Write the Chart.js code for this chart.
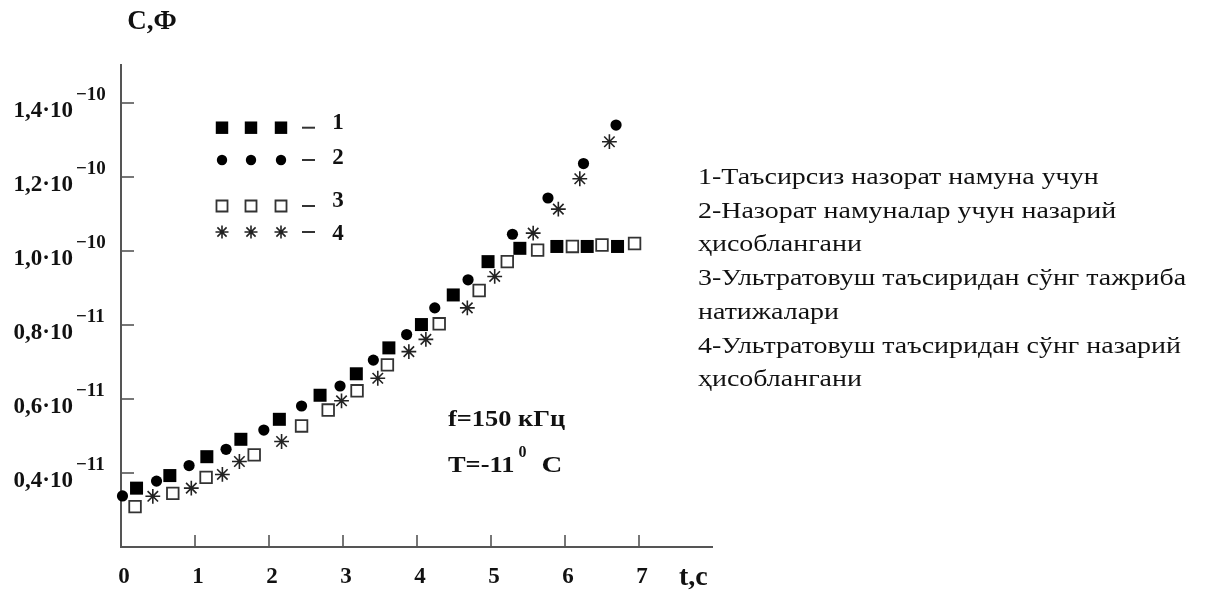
<!DOCTYPE html>
<html><head><meta charset="utf-8">
<script src="https://cdn.jsdelivr.net/npm/chart.js@4"></script>
<style>
html,body{margin:0;padding:0;background:#fff;}
#wrap{position:relative;width:1213px;height:597px;overflow:hidden;}
#c{position:absolute;left:0;top:0;}
#notes{position:absolute;left:698px;top:160px;font-family:"Liberation Serif",serif;font-size:23px;line-height:33.7px;color:#111;white-space:nowrap;transform:scaleX(1.215);transform-origin:0 0;}
</style></head><body>
<div id="wrap"><canvas id="c" width="1213" height="597"></canvas>
<div id="notes">1-Таъсирсиз назорат намуна учун<br>2-Назорат намуналар учун назарий<br>ҳисоблангани<br>3-Ультратовуш таъсиридан сўнг тажриба<br>натижалари<br>4-Ультратовуш таъсиридан сўнг назарий<br>ҳисоблангани</div></div>
<script>
// ---- data ----
const s1x = [0.21,0.66,1.16,1.62,2.14,2.69,3.18,3.62,4.06,4.49,4.96,5.39,5.89,6.30,6.71];
const s1y = [0.359,0.393,0.444,0.491,0.545,0.610,0.668,0.738,0.801,0.881,0.971,1.007,1.012,1.012,1.012];
const s2x = [0.02,0.48,0.92,1.42,1.93,2.44,2.96,3.41,3.86,4.24,4.69,5.29,5.77,6.25,6.69];
const s2y = [0.338,0.378,0.420,0.464,0.516,0.581,0.635,0.705,0.774,0.846,0.922,1.045,1.143,1.236,1.340];
const s3x = [0.19,0.70,1.15,1.80,2.44,2.80,3.19,3.60,4.30,4.84,5.22,5.63,6.10,6.50,6.94];
const s3y = [0.309,0.345,0.388,0.449,0.527,0.570,0.622,0.692,0.803,0.893,0.971,1.002,1.012,1.016,1.020];
const s4x = [0.43,0.95,1.37,1.60,2.17,2.98,3.47,3.89,4.12,4.68,5.05,5.57,5.91,6.20,6.60];
const s4y = [0.337,0.359,0.396,0.431,0.485,0.595,0.656,0.728,0.761,0.846,0.931,1.048,1.113,1.195,1.295];
const seriesNames = ['1','2','3','4'];
const yTickValues = [0.4,0.6,0.8,1.0,1.2,1.4];
const yTickMain = ['0,4·10','0,6·10','0,8·10','1,0·10','1,2·10','1,4·10'];
const yTickExp = ['−11','−11','−11','−10','−10','−10'];
const xTickValues = [0,1,2,3,4,5,6,7];
const xTickLabels = ['0','1','2','3','4','5','6','7'];
const yTitle = 'С,Ф';
const xTitle = 't,c';

const zip = (xs, ys) => xs.map((x, i) => ({x: x, y: ys[i]}));
const F = (s) => 'bold ' + s + 'px "Liberation Serif", serif';

const styles = [
  {pointStyle:'rect', radius:9.2, bg:'#000', border:'#000', bw:0},
  {pointStyle:'circle', radius:5.6, bg:'#000', border:'#000', bw:0},
  {pointStyle:'rect', radius:8.2, bg:'#fff', border:'#333', bw:1.8},
  {pointStyle:'star', radius:7.4, bg:'#222', border:'#222', bw:1.6}
];
const allData = [zip(s1x,s1y), zip(s2x,s2y), zip(s3x,s3y), zip(s4x,s4y)];

function stretchText(ctx, txt, x, y, sx) {
  ctx.save();
  ctx.translate(x, y);
  ctx.scale(sx, 1);
  ctx.fillText(txt, 0, 0);
  ctx.restore();
  return ctx.measureText(txt).width * sx;
}

const decor = {
  id: 'decor',
  beforeDatasetsDraw(chart) {
    const ctx = chart.ctx, a = chart.chartArea;
    const xs = chart.scales.x, ys = chart.scales.y;
    ctx.save();
    ctx.strokeStyle = '#555';
    ctx.lineWidth = 2;
    ctx.beginPath();
    ctx.moveTo(a.left, a.top); ctx.lineTo(a.left, a.bottom); ctx.lineTo(a.right, a.bottom);
    ctx.stroke();
    ctx.lineWidth = 1.6;
    yTickValues.forEach(v => {
      const y = Math.round(ys.getPixelForValue(v));
      ctx.beginPath(); ctx.moveTo(a.left, y); ctx.lineTo(a.left + 13, y); ctx.stroke();
    });
    xTickValues.forEach(v => {
      if (v === 0) return;
      const x = Math.round(xs.getPixelForValue(v));
      ctx.beginPath(); ctx.moveTo(x, a.bottom); ctx.lineTo(x, a.bottom - 12); ctx.stroke();
    });
    ctx.restore();
  },
  afterDraw(chart) {
    const ctx = chart.ctx, a = chart.chartArea;
    const xs = chart.scales.x, ys = chart.scales.y;
    ctx.save();
    ctx.fillStyle = '#111';
    // y tick labels
    yTickValues.forEach((v, i) => {
      const y = ys.getPixelForValue(v);
      ctx.font = F(23);
      ctx.textAlign = 'right'; ctx.textBaseline = 'middle';
      ctx.fillText(yTickMain[i], 73, y + 8);
      ctx.font = F(19);
      ctx.textAlign = 'left';
      ctx.fillText(yTickExp[i], 76, y - 8);
    });
    // x tick labels
    ctx.font = F(23); ctx.textAlign = 'center'; ctx.textBaseline = 'middle';
    xTickValues.forEach((v, i) => {
      ctx.fillText(xTickLabels[i], xs.getPixelForValue(v) + 3, 577);
    });
    // titles
    ctx.font = F(27);
    ctx.textAlign = 'center';
    ctx.fillText(yTitle, 152, 22);
    ctx.textAlign = 'left';
    ctx.font = F(28);
    ctx.fillText(xTitle, 679, 578);
    // annotations
    ctx.font = F(24); ctx.textAlign = 'left';
    stretchText(ctx, 'f=150 кГц', 448, 420, 1.1);
    const w1 = stretchText(ctx, 'T=-11', 448, 466, 1.1);
    ctx.font = F(16);
    ctx.fillText('0', 448 + w1 + 4, 453);
    ctx.font = F(24);
    stretchText(ctx, 'C', 448 + w1 + 27, 466, 1.2);
    // legend
    const rows = [127.7, 160, 206, 232];
    const numY = [123, 158, 201, 234];
    const mx = [222, 251, 281];
    rows.forEach((ry, i) => {
      const st = styles[i];
      mx.forEach(x => {
        ctx.fillStyle = st.bg; ctx.strokeStyle = st.border; ctx.lineWidth = st.bw;
        const r = i === 0 ? 8.8 : (i === 2 ? 7.8 : (i === 1 ? 5.2 : 6.5));
        Chart.helpers.drawPoint(ctx, {pointStyle: st.pointStyle, radius: r, rotation: 0, borderWidth: st.bw}, x, ry);
      });
      ctx.strokeStyle = '#333'; ctx.lineWidth = 2;
      ctx.beginPath(); ctx.moveTo(302, ry); ctx.lineTo(315, ry); ctx.stroke();
      ctx.fillStyle = '#111';
      ctx.font = F(23); ctx.textAlign = 'center'; ctx.textBaseline = 'middle';
      ctx.fillText(seriesNames[i], 338, numY[i]);
    });
    ctx.restore();
  }
};

new Chart(document.getElementById('c'), {
  type: 'scatter',
  data: {
    datasets: allData.map((d, i) => ({
      label: seriesNames[i],
      data: d,
      showLine: false,
      clip: false,
      pointStyle: styles[i].pointStyle,
      pointRadius: styles[i].radius,
      pointBackgroundColor: styles[i].bg,
      pointBorderColor: styles[i].border,
      pointBorderWidth: styles[i].bw,
      pointHoverRadius: styles[i].radius
    }))
  },
  options: {
    responsive: false,
    animation: false,
    events: [],
    layout: {padding: {left: 121, top: 64, right: 1213 - 713, bottom: 597 - 547}},
    plugins: {legend: {display: false}, tooltip: {enabled: false}},
    scales: {
      x: {type: 'linear', min: 0, max: 8, display: false},
      y: {type: 'linear', min: 0.2, max: 1.505, display: false}
    }
  },
  plugins: [decor]
});
</script>
</body></html>
